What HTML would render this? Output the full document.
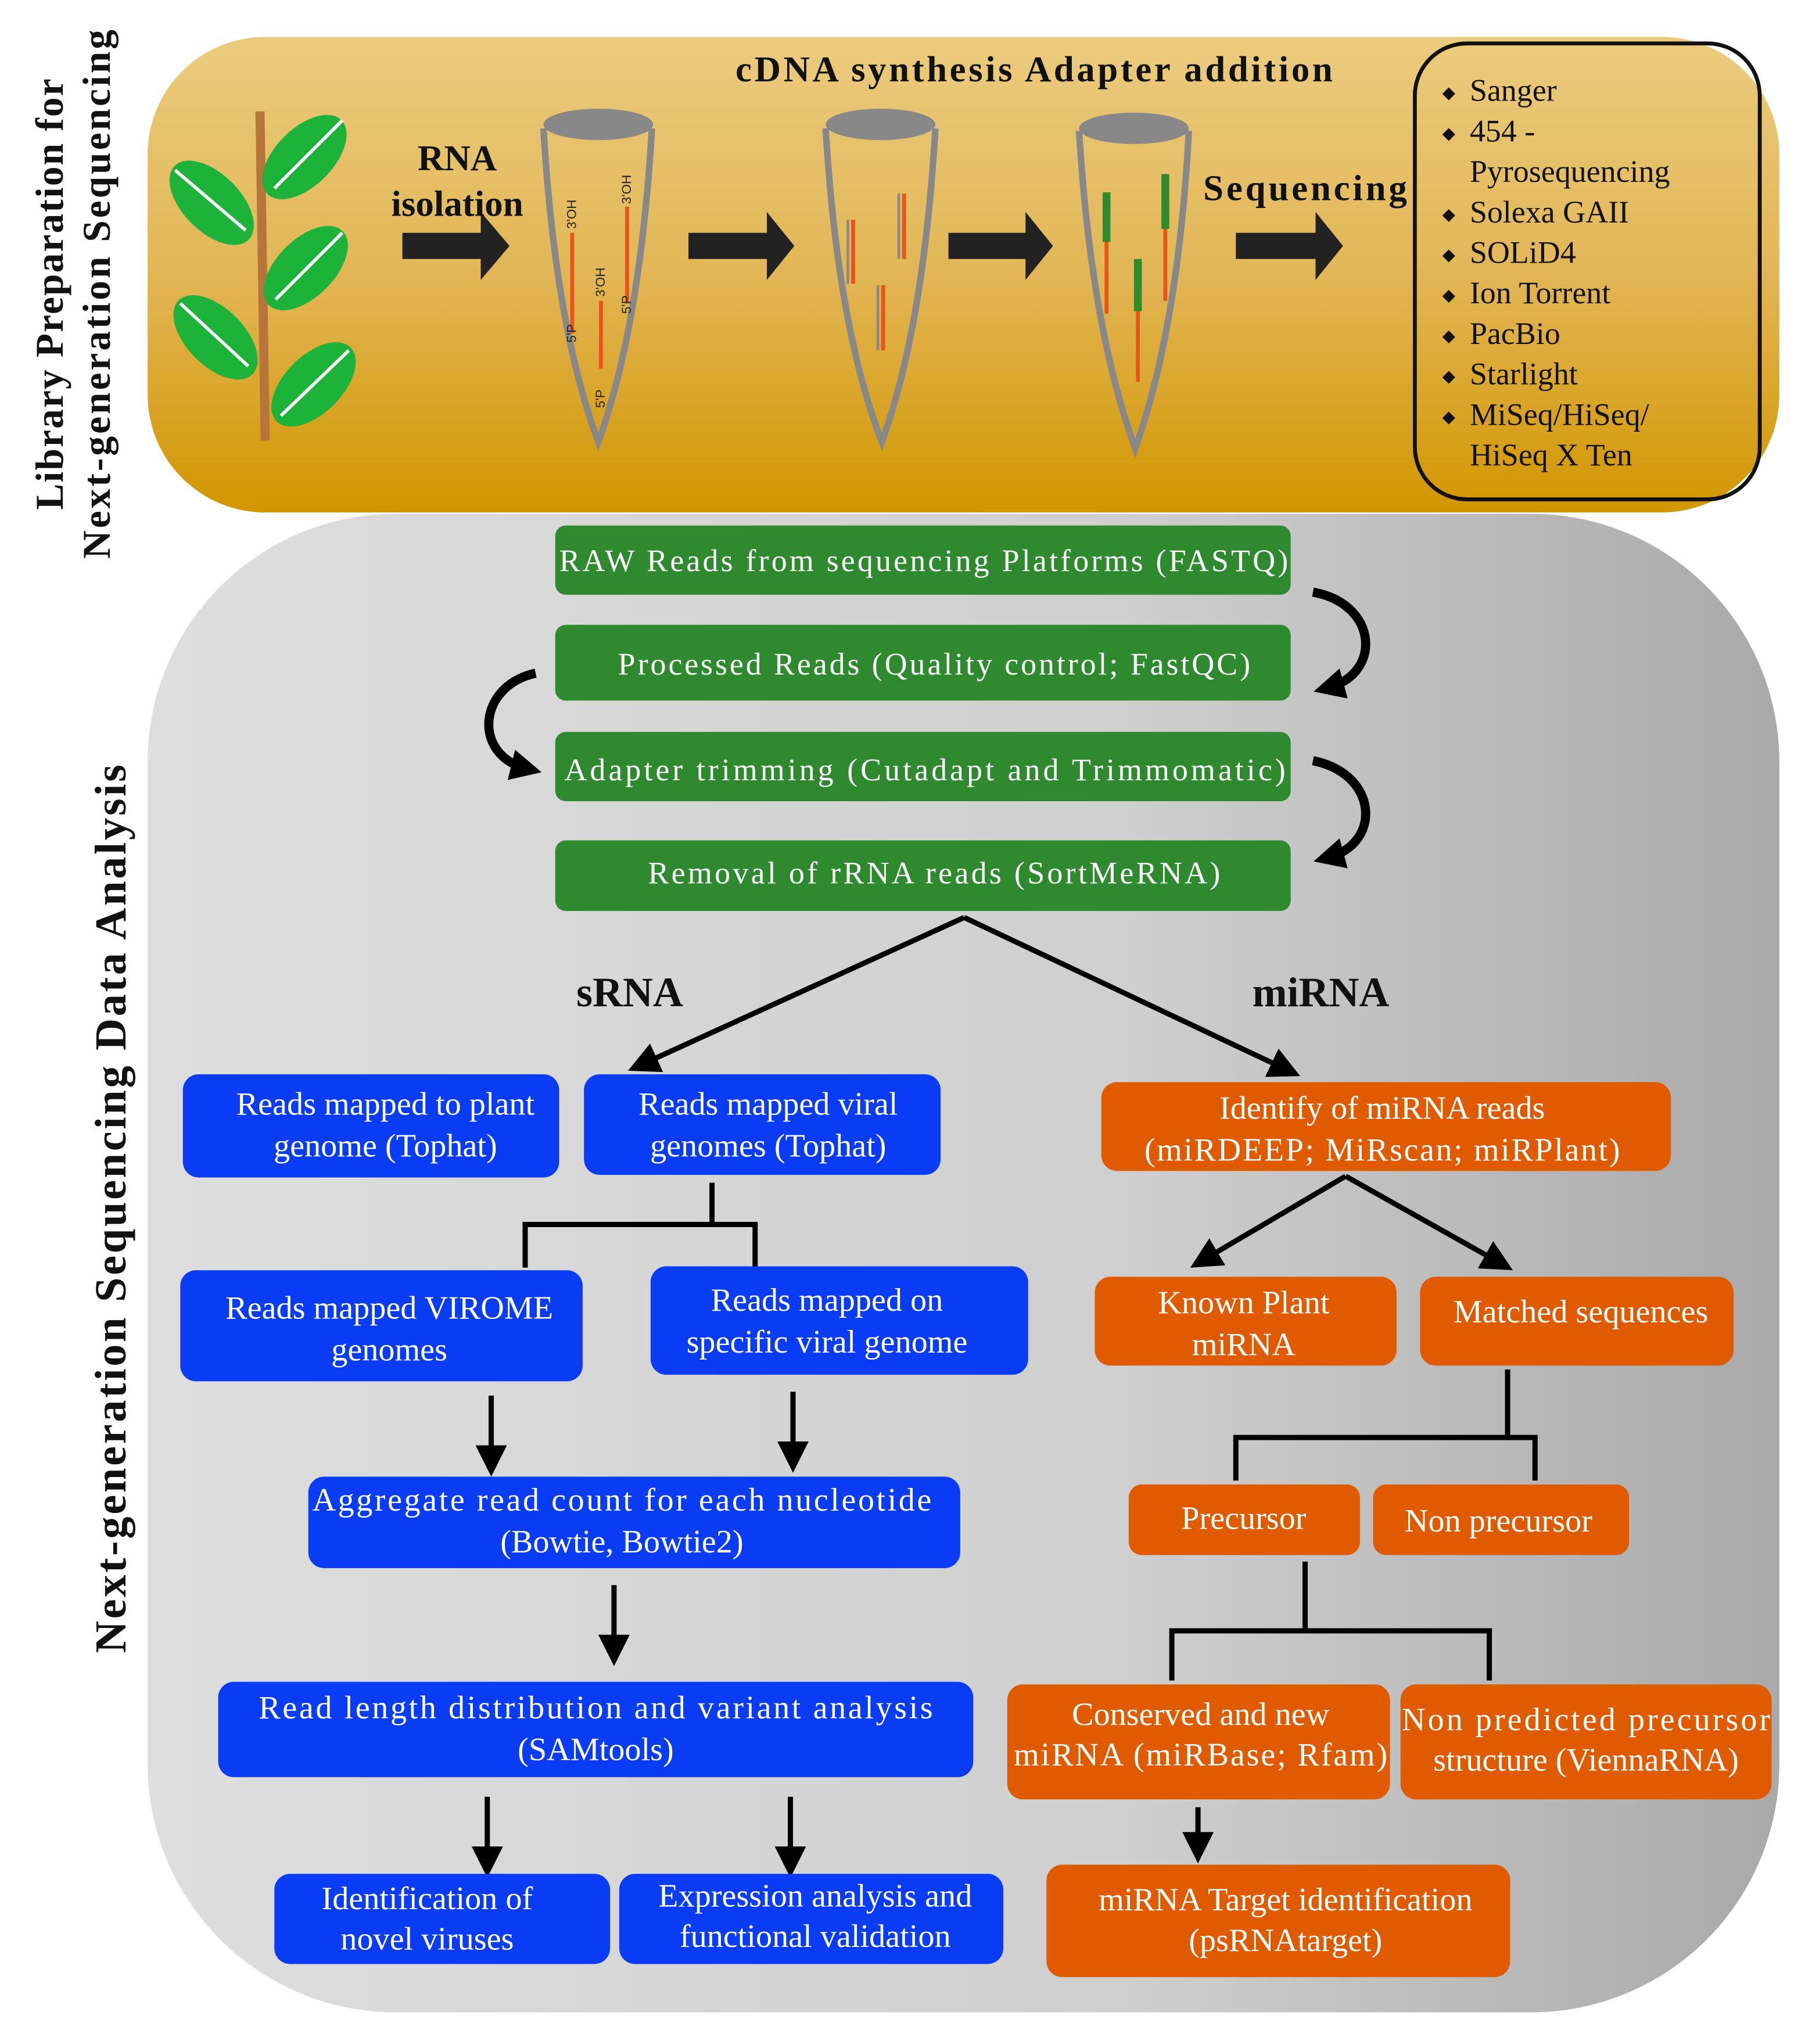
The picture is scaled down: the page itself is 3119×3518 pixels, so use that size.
<!DOCTYPE html>
<html><head><meta charset="utf-8"><style>html,body{margin:0;padding:0;background:#fff}svg{display:block}</style></head>
<body>
<svg xmlns="http://www.w3.org/2000/svg" width="3119" height="3518" viewBox="0 0 1387 1564" font-family="'Liberation Serif', serif">
<defs>
<linearGradient id="gy" x1="0" y1="0" x2="0" y2="1"><stop offset="0" stop-color="#ebcb7e"/><stop offset="0.5" stop-color="#e2b656"/><stop offset="1" stop-color="#d29600"/></linearGradient>
<linearGradient id="gg" x1="0" y1="0" x2="1" y2="0"><stop offset="0" stop-color="#dedede"/><stop offset="0.6" stop-color="#cfcfcf"/><stop offset="1" stop-color="#a9a9a9"/></linearGradient>
<marker id="ah" markerWidth="6" markerHeight="6" refX="4" refY="3" orient="auto" markerUnits="strokeWidth"><path d="M0,0 L6,3 L0,6 z" fill="#000"/></marker>
<marker id="ah2" markerWidth="3.4" markerHeight="3.4" refX="1.7" refY="1.7" orient="auto" markerUnits="strokeWidth"><path d="M0,0 L3.4,1.7 L0,3.4 z" fill="#000"/></marker>
</defs>
<rect width="1387" height="1564" fill="#fff"/>
<rect x="113" y="28" width="1249" height="364" rx="90" fill="url(#gy)"/>
<rect x="113" y="393" width="1249" height="1147" rx="190" fill="url(#gg)"/>
<g font-weight="bold" font-size="30" fill="#111" text-anchor="middle">
<text transform="translate(48,225) rotate(-90)" textLength="330">Library Preparation for</text>
<text transform="translate(84,225) rotate(-90)" textLength="405">Next-generation Sequencing</text>
<text font-size="34" transform="translate(96,925) rotate(-90)" textLength="680">Next-generation Sequencing Data Analysis</text>
</g>
<line x1="199" y1="85" x2="203" y2="337" stroke="#b8743a" stroke-width="7"/>
<g fill="#1db33a">
<ellipse cx="233" cy="120" rx="40" ry="22" transform="rotate(-45 233 120)"/>
<ellipse cx="162" cy="155" rx="40" ry="22" transform="rotate(45 162 155)"/>
<ellipse cx="234" cy="205" rx="40" ry="22" transform="rotate(-45 234 205)"/>
<ellipse cx="165" cy="258" rx="40" ry="22" transform="rotate(45 165 258)"/>
<ellipse cx="240" cy="294" rx="40" ry="22" transform="rotate(-45 240 294)"/>
</g>
<g stroke="#fff" stroke-width="2.5">
<line x1="210" y1="144" x2="262" y2="92"/><line x1="134" y1="130" x2="188" y2="176"/>
<line x1="211" y1="229" x2="262" y2="178"/><line x1="138" y1="232" x2="190" y2="280"/>
<line x1="215" y1="318" x2="267" y2="268"/>
</g>
<g fill="#222">
<path d="M308,178 H368 V162 L390,188 L368,214 V198 H308 Z"/>
<path d="M527,178 H587 V162 L608,188 L587,214 V198 H527 Z"/>
<path d="M726,178 H785 V162 L806,188 L785,214 V198 H726 Z"/>
<path d="M946,178 H1007 V162 L1028,188 L1007,214 V198 H946 Z"/>
</g>
<g font-weight="bold" font-size="28" fill="#111">
<text x="350" y="130" text-anchor="middle">RNA</text>
<text x="350" y="165" text-anchor="middle">isolation</text>
<text x="563" y="62" textLength="457">cDNA synthesis Adapter addition</text>
<text x="921" y="153" textLength="156">Sequencing</text>
</g>
<g fill="none" stroke="#888" stroke-width="5">
<path d="M416,98 Q425,250 458,338 Q490,250 499,98"/>
<path d="M632,98 Q641,250 675,338 Q707,250 716,98"/>
<path d="M826,100 Q835,250 869,343 Q902,250 910,100"/>
</g>
<g fill="#888"><ellipse cx="458" cy="95" rx="42" ry="12"/><ellipse cx="674" cy="95" rx="42" ry="12"/><ellipse cx="868" cy="98" rx="42" ry="12"/></g>
<g stroke="#e8541a" stroke-width="3">
<line x1="438" y1="178" x2="438" y2="255"/><line x1="460" y1="230" x2="460" y2="282"/><line x1="480" y1="158" x2="480" y2="232"/>
<line x1="653" y1="168" x2="653" y2="217"/><line x1="692" y1="148" x2="692" y2="198"/><line x1="676" y1="218" x2="676" y2="268"/>
<line x1="847" y1="185" x2="847" y2="240"/><line x1="892" y1="175" x2="892" y2="230"/><line x1="871" y1="238" x2="871" y2="292"/>
</g>
<g stroke="#888" stroke-width="2"><line x1="649" y1="168" x2="649" y2="217"/><line x1="688" y1="148" x2="688" y2="198"/><line x1="672" y1="218" x2="672" y2="268"/></g>
<g stroke="#2e8b2e" stroke-width="6"><line x1="847" y1="147" x2="847" y2="185"/><line x1="892" y1="133" x2="892" y2="175"/><line x1="871" y1="198" x2="871" y2="238"/></g>
<g font-family="'Liberation Sans',sans-serif" font-size="10" fill="#222">
<text transform="translate(441,175) rotate(-90)">3'OH</text><text transform="translate(441,262) rotate(-90)">5'P</text>
<text transform="translate(463,227) rotate(-90)">3'OH</text><text transform="translate(463,312) rotate(-90)">5'P</text>
<text transform="translate(483,156) rotate(-90)">3'OH</text><text transform="translate(483,240) rotate(-90)">5'P</text>
</g>
<rect x="1083" y="33" width="264" height="349" rx="40" fill="none" stroke="#111" stroke-width="3"/>
<g font-size="24" fill="#111">
<text x="1125" y="77">Sanger</text><text x="1125" y="108">454 -</text><text x="1125" y="139">Pyrosequencing</text>
<text x="1125" y="170">Solexa GAII</text><text x="1125" y="201">SOLiD4</text><text x="1125" y="232">Ion Torrent</text>
<text x="1125" y="263">PacBio</text><text x="1125" y="294">Starlight</text><text x="1125" y="325">MiSeq/HiSeq/</text><text x="1125" y="356">HiSeq X Ten</text>
<g font-size="13"><text x="1104" y="75">◆</text><text x="1104" y="106">◆</text><text x="1104" y="168">◆</text><text x="1104" y="199">◆</text><text x="1104" y="230">◆</text><text x="1104" y="261">◆</text><text x="1104" y="292">◆</text><text x="1104" y="323">◆</text></g>
</g>
<g fill="#2f8a2f">
<rect x="425" y="402" width="563" height="53" rx="8"/>
<rect x="425" y="478" width="563" height="58" rx="8"/>
<rect x="425" y="560" width="563" height="53" rx="8"/>
<rect x="425" y="643" width="563" height="54" rx="8"/>
</g>
<g fill="#fff" font-size="24" text-anchor="middle">
<text x="707" y="437" textLength="558">RAW Reads from sequencing Platforms (FASTQ)</text>
<text x="715" y="516" textLength="484">Processed Reads (Quality control; FastQC)</text>
<text x="708" y="597" textLength="552">Adapter trimming (Cutadapt and Trimmomatic)</text>
<text x="715" y="676" textLength="438">Removal of rRNA reads (SortMeRNA)</text>
</g>
<g fill="none" stroke="#000" stroke-width="7">
<path d="M1005,453 C1055,462 1058,515 1017,526" marker-end="url(#ah2)"/>
<path d="M1005,582 C1055,592 1058,645 1017,656" marker-end="url(#ah2)"/>
<path d="M410,515 C365,525 362,578 403,588" marker-end="url(#ah2)"/>
</g>
<g stroke="#000" stroke-width="4" fill="none">
<path d="M738,702 L488,816" marker-end="url(#ah)"/>
<path d="M738,702 L988,820" marker-end="url(#ah)"/>
<path d="M1030,900 L918,966" marker-end="url(#ah)"/>
<path d="M1030,900 L1151,968" marker-end="url(#ah)"/>
<path d="M545,905 V937 M402,970 V937 H578 V970"/>
<path d="M1154,1048 V1100 M946,1133 V1100 H1175 V1133"/>
<path d="M999,1195 V1248 M897,1286 V1248 H1140 V1286"/>
<path d="M376,1068 V1122" marker-end="url(#ah)"/>
<path d="M607,1065 V1119" marker-end="url(#ah)"/>
<path d="M470,1213 V1267" marker-end="url(#ah)"/>
<path d="M373,1375 V1429" marker-end="url(#ah)"/>
<path d="M605,1375 V1429" marker-end="url(#ah)"/>
<path d="M917,1383 V1418" marker-end="url(#ah)"/>
</g>
<g font-weight="bold" font-size="32" fill="#111" text-anchor="middle"><text x="482" y="770">sRNA</text><text x="1011" y="770">miRNA</text></g>
<g fill="#0a3cf5">
<rect x="140" y="822" width="288" height="79" rx="12"/>
<rect x="447" y="822" width="273" height="77" rx="12"/>
<rect x="138" y="972" width="308" height="85" rx="12"/>
<rect x="498" y="969" width="289" height="83" rx="12"/>
<rect x="236" y="1130" width="499" height="70" rx="12"/>
<rect x="167" y="1287" width="578" height="73" rx="12"/>
<rect x="210" y="1434" width="257" height="69" rx="12"/>
<rect x="474" y="1434" width="294" height="69" rx="12"/>
</g>
<g fill="#e05a00">
<rect x="843" y="828" width="436" height="68" rx="12"/>
<rect x="838" y="977" width="231" height="68" rx="12"/>
<rect x="1087" y="977" width="240" height="68" rx="12"/>
<rect x="864" y="1136" width="177" height="54" rx="10"/>
<rect x="1051" y="1136" width="196" height="54" rx="10"/>
<rect x="771" y="1289" width="293" height="88" rx="12"/>
<rect x="1072" y="1289" width="284" height="88" rx="12"/>
<rect x="801" y="1427" width="355" height="86" rx="12"/>
</g>
<g fill="#fff" font-size="25" text-anchor="middle">
<text x="295" y="853">Reads mapped to plant</text><text x="295" y="885">genome (Tophat)</text>
<text x="588" y="853">Reads mapped viral</text><text x="588" y="885">genomes (Tophat)</text>
<text x="298" y="1009">Reads mapped VIROME</text><text x="298" y="1041">genomes</text>
<text x="633" y="1003">Reads mapped on</text><text x="633" y="1035">specific viral genome</text>
<text x="476" y="1156" textLength="474">Aggregate read count for each nucleotide</text><text x="476" y="1188">(Bowtie, Bowtie2)</text>
<text x="456" y="1315" textLength="516">Read length distribution and variant analysis</text><text x="456" y="1347">(SAMtools)</text>
<text x="327" y="1461">Identification of</text><text x="327" y="1492">novel viruses</text>
<text x="624" y="1459">Expression analysis and</text><text x="624" y="1490">functional validation</text>
<text x="1058" y="856">Identify of miRNA reads</text><text x="1058" y="888" textLength="364">(miRDEEP; MiRscan; miRPlant)</text>
<text x="952" y="1005">Known Plant</text><text x="952" y="1037">miRNA</text>
<text x="1210" y="1012">Matched sequences</text>
<text x="952" y="1170">Precursor</text>
<text x="1147" y="1172">Non precursor</text>
<text x="919" y="1320">Conserved and new</text><text x="919" y="1351" textLength="286">miRNA (miRBase; Rfam)</text>
<text x="1214" y="1324" textLength="282">Non predicted precursor</text><text x="1214" y="1355">structure (ViennaRNA)</text>
<text x="984" y="1462">miRNA Target identification</text><text x="984" y="1493">(psRNAtarget)</text>
</g>
</svg>
</body></html>
